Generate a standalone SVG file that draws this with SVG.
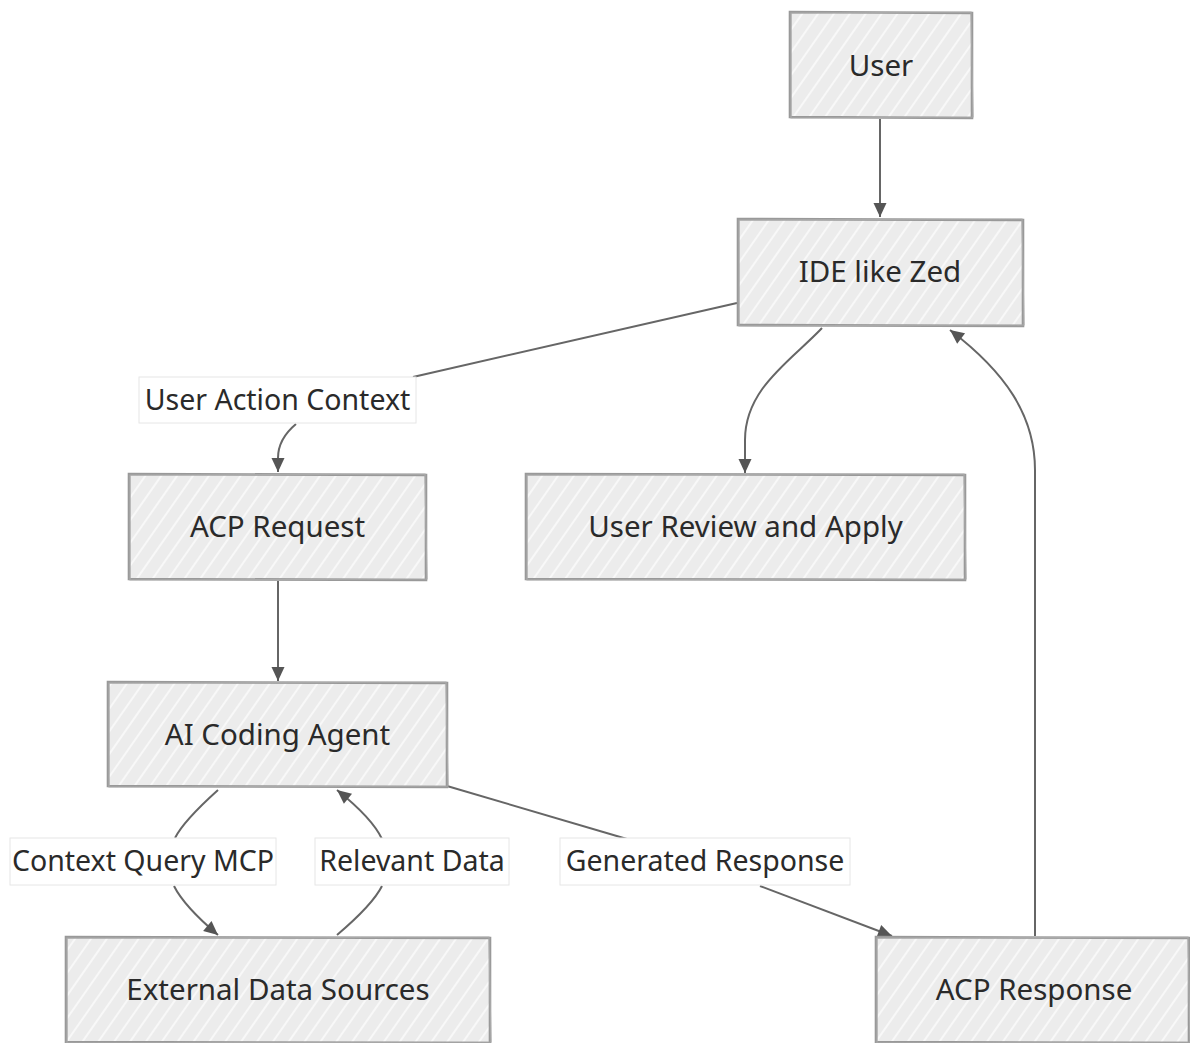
<svg xmlns="http://www.w3.org/2000/svg" width="1190" height="1043" viewBox="0 0 1190 1043">
  <defs>
    <!-- diagonal hatching used inside every node -->
    <pattern id="hatch" width="13" height="13" patternUnits="userSpaceOnUse" patternTransform="rotate(35)">
      <rect width="13" height="13" fill="#ececec"/>
      <line x1="2" y1="0" x2="2" y2="13" stroke="#ffffff" stroke-width="1.3"/>
    </pattern>
    <marker id="arrow" markerUnits="userSpaceOnUse" markerWidth="16" markerHeight="16" viewBox="0 0 16 16" refX="15" refY="8" orient="auto">
      <path d="M1,1.5 L15,8 L1,14.5 Z" fill="#555555"/>
    </marker>
  </defs>
  <style>
    .box { fill: url(#hatch); }
    .edge1 { fill: none; stroke: #999999; stroke-width: 2.6; }
    .edge2 { fill: none; stroke: #aaaaaa; stroke-width: 1.2; }
    .label { font-family: "Noto Sans", "Open Sans", sans-serif; font-size: 29.5px; fill: #2a2a2a; text-anchor: middle; dominant-baseline: central; }
    .elabel { font-size: 28.5px; }
    .lbg { fill: #ffffff; stroke: #e6e6e6; stroke-width: 1; }
    .link { fill: none; stroke: #666666; stroke-width: 2; }
  </style>
  <rect width="1190" height="1043" fill="#ffffff"/>

  <!-- connectors -->
  <g id="connectors">
    <path class="link" d="M880,119 L880,217" marker-end="url(#arrow)"/>
    <path class="link" d="M737,303 L413,377"/>
    <path class="link" d="M296,424 C284,434 278,446 278,458 L278,472" marker-end="url(#arrow)"/>
    <path class="link" d="M822,328 C792,360 745,388 745,440 L745,473" marker-end="url(#arrow)"/>
    <path class="link" d="M278,581 L278,681" marker-end="url(#arrow)"/>
    <path class="link" d="M218,790 C198,808 182,824 175,838"/>
    <path class="link" d="M174,886 C182,902 198,918 218,935" marker-end="url(#arrow)"/>
    <path class="link" d="M337,935 C357,918 374,902 382,886"/>
    <path class="link" d="M382,839 C374,822 357,806 337,790" marker-end="url(#arrow)"/>
    <path class="link" d="M447,786 L627,839"/>
    <path class="link" d="M760,886 L892,936" marker-end="url(#arrow)"/>
    <path class="link" d="M1035,936 L1035,470 C1035,415 1005,372 950,330" marker-end="url(#arrow)"/>

    <!-- edge labels -->
    <g id="lbl-user-action">
      <rect class="lbg" x="139" y="377" width="277" height="46"/>
      <text class="label elabel" x="277.5" y="399">User Action Context</text>
    </g>
    <g id="lbl-context-query">
      <rect class="lbg" x="10" y="838" width="266" height="47"/>
      <text class="label elabel" x="143" y="860">Context Query MCP</text>
    </g>
    <g id="lbl-relevant-data">
      <rect class="lbg" x="315" y="838" width="194" height="47"/>
      <text class="label elabel" x="412" y="860">Relevant Data</text>
    </g>
    <g id="lbl-generated">
      <rect class="lbg" x="560" y="838" width="290" height="47"/>
      <text class="label elabel" x="705" y="860">Generated Response</text>
    </g>
  </g>

  <!-- nodes -->
  <g id="user">
    <rect class="box" x="790" y="12" width="182" height="106"/>
    <path class="edge1" d="M790,12 L972,13 L972,118 L790,117 Z"/>
    <path class="edge2" d="M791,13 L971,12 L973,117 L791,118 Z"/>
    <text class="label" x="881" y="64">User</text>
  </g>
  <g id="ide">
    <rect class="box" x="738" y="219" width="285" height="107"/>
    <path class="edge1" d="M738,219 L1023,220 L1023,326 L738,325 Z"/>
    <path class="edge2" d="M739,220 L1022,219 L1024,325 L739,326 Z"/>
    <text class="label" x="880" y="270">IDE like Zed</text>
  </g>
  <g id="acp-request">
    <rect class="box" x="129" y="474" width="297" height="106"/>
    <path class="edge1" d="M129,474 L426,475 L426,580 L129,579 Z"/>
    <path class="edge2" d="M130,475 L425,474 L427,579 L130,580 Z"/>
    <text class="label" x="277.5" y="525">ACP Request</text>
  </g>
  <g id="user-review">
    <rect class="box" x="526" y="474" width="439" height="106"/>
    <path class="edge1" d="M526,474 L965,475 L965,580 L526,579 Z"/>
    <path class="edge2" d="M527,475 L964,474 L966,579 L527,580 Z"/>
    <text class="label" x="745.5" y="525">User Review and Apply</text>
  </g>
  <g id="ai-agent">
    <rect class="box" x="108" y="682" width="339" height="105"/>
    <path class="edge1" d="M108,682 L447,683 L447,787 L108,786 Z"/>
    <path class="edge2" d="M109,683 L446,682 L448,786 L109,787 Z"/>
    <text class="label" x="277.5" y="733">AI Coding Agent</text>
  </g>
  <g id="external-data">
    <rect class="box" x="66" y="937" width="424" height="106"/>
    <path class="edge1" d="M66,937 L490,938 L490,1043 L66,1042 Z"/>
    <path class="edge2" d="M67,938 L489,937 L491,1042 L67,1043 Z"/>
    <text class="label" x="278" y="988">External Data Sources</text>
  </g>
  <g id="acp-response">
    <rect class="box" x="876" y="937" width="314" height="106"/>
    <path class="edge1" d="M876,937 L1189,938 L1189,1043 L876,1042 Z"/>
    <path class="edge2" d="M877,938 L1188,937 L1190,1042 L877,1043 Z"/>
    <text class="label" x="1034" y="988">ACP Response</text>
  </g>
</svg>
